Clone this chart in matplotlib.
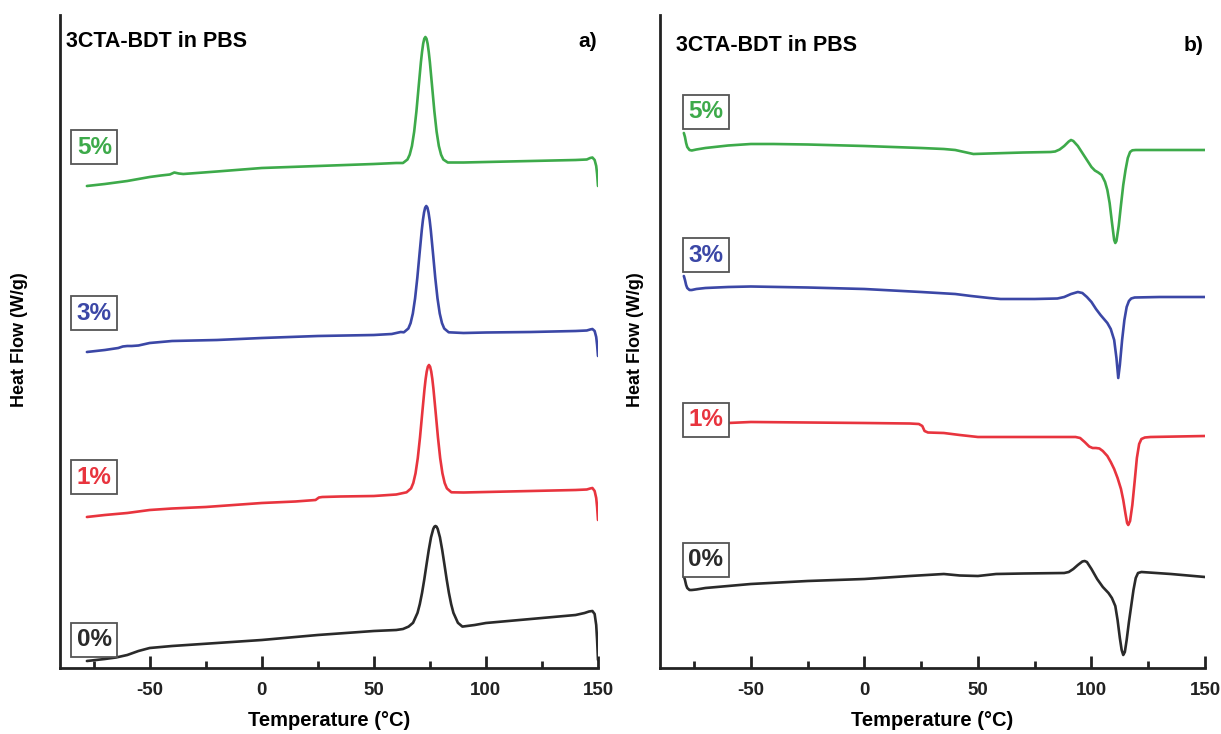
import matplotlib
matplotlib.use("Agg")
import matplotlib.pyplot as plt
from matplotlib.ticker import MultipleLocator

plt.rcParams['font.family'] = ['Liberation Sans', 'DejaVu Sans']
plt.rcParams['axes.unicode_minus'] = False

# ---------------- data (heat flow in arbitrary offset units; axis is inverted) ----------------
# Panel a) : exothermic crystallisation peaks
a_5_T = [-78, -70, -60, -55, -50, -45, -41, -39, -37, -35, -20, 0, 25, 50, 60, 63,
         65, 66, 67, 68, 69, 70, 71, 71.5, 72, 72.5, 73, 73.5, 74, 74.5, 75, 76, 77, 78, 79, 80, 81, 83,
         90, 100, 120, 140, 145, 146.5, 147.5, 148.5, 149.2, 149.6, 150]
a_5_y = [186, 184, 181, 179, 177, 175.5, 174.5, 172.5, 173.5, 174, 171.5, 168, 166, 164, 163, 163,
         159.5, 154.7, 146, 131.6, 111.2, 86.5, 62.1, 52, 43.8, 38.7, 37, 38.7, 43.8, 52, 62.1, 86.5,
         111.2, 131.6, 146, 154.7, 159.5, 162.5,
         162.5, 162, 161, 160, 159.5, 158, 157.5, 160, 166, 174, 186]

a_3_T = [-78, -70, -64, -62, -60, -58, -55, -50, -45, -40, -20, 0, 25, 50, 58, 61, 62,
         63.4, 65.4, 66.4, 67.4, 68.4, 69.4, 70.4, 71.4, 71.9, 72.4, 72.9, 73.4, 73.9, 74.4, 74.9,
         75.4, 76.4, 77.4, 78.4, 79.4, 80.4, 81.4, 83.4,
         90, 100, 120, 140, 145, 146.5, 147.5, 148.5, 149.2, 149.6, 150]
a_3_y = [352, 350, 348, 346.5, 346, 346, 345.5, 343, 342, 341, 340, 338, 336, 335, 334, 332.5, 332,
         332.3, 328.5, 323.1, 313.5, 298.4, 277.8, 253.5, 229.9, 220, 212.5, 207.6, 206, 207.6,
         212.5, 220, 229.9, 253.5, 277.8, 298.4, 313.5, 323.1, 328.5, 332.3,
         333, 332.5, 332, 331, 330.5, 329.5, 329, 331, 337, 345, 356]

a_1_T = [-78, -70, -60, -50, -40, -25, 0, 15, 24, 25.5, 27, 35, 50, 60,
         64.6, 66.6, 67.6, 68.6, 69.6, 70.6, 71.6, 72.6, 73.1, 73.6, 74.1, 74.6, 75.1, 75.6, 76.1,
         76.6, 77.6, 78.6, 79.6, 80.6, 81.6, 82.6, 84.6,
         90, 100, 120, 140, 145, 146.5, 147.5, 148.5, 149.2, 149.6, 150]
a_1_y = [517, 515, 513, 510, 508.5, 507, 503, 501.5, 500, 497.5, 497, 496.5, 496, 494.5,
         492.3, 488.4, 483, 473.3, 458.2, 437.3, 412.9, 389.1, 379.1, 371.5, 366.7, 365, 366.7,
         371.5, 379.1, 389.1, 412.9, 437.3, 458.2, 473.3, 483, 488.4, 492.3,
         492.5, 492, 491, 490, 489.5, 488.5, 488, 491, 498, 507, 520]

a_0_T = [-78, -70, -65, -60, -55, -50, -45, -40, -20, 0, 25, 50, 60, 63,
         65.5, 67.5, 69.5, 70.5, 71.5, 72.5, 73.5, 74.5, 75.5, 76.5, 77, 77.5, 78, 78.5, 79.5,
         80.5, 81.5, 82.5, 83.5, 84.5, 85.5, 87.5, 89.5,
         95, 100, 110, 120, 130, 140, 144, 146, 147.5, 148.5, 149.2, 149.6, 150]
a_0_y = [661, 659, 657.5, 655, 651, 648, 647, 646, 643, 640, 635, 631, 630, 629,
         626.6, 622.8, 612.8, 604.2, 593, 579.5, 564.6, 550, 537.4, 529, 526.7, 526, 526.7, 529,
         537.4, 550, 564.6, 579.5, 593, 604.2, 612.8, 622.8, 626.6,
         625, 623, 621, 619, 617, 615, 613, 611.5, 611, 614, 625, 640, 660]

# Panel b) : endothermic melting
b_5_T = [-79.5, -79, -78.5, -78, -77, -76, -74, -70, -60, -50, -40, -25, 0, 25, 35, 40, 45, 48,
         55, 70, 82, 84, 86, 88, 90, 91, 92, 94, 96, 98, 100, 101.5, 103, 104.5, 106, 107, 108, 109,
         110, 110.5, 111, 112, 113, 114, 115, 116, 117, 118, 119.5, 130, 150]
b_5_y = [133, 137, 143, 147, 150, 150.5, 149.5, 148, 145.5, 144, 144, 144.5, 146, 148, 149, 150,
         152.5, 154, 153.5, 152.5, 152, 151.5, 149.5, 146, 141.5, 140, 141, 146, 153, 160, 167, 170.5,
         172.5, 175, 182, 190, 203, 222, 240, 243, 241, 226, 205, 185, 170, 158, 152, 150.3, 150,
         150, 150]

b_3_T = [-79.5, -79, -78.5, -78, -77, -76, -74, -70, -60, -50, -25, 0, 25, 40, 47, 55, 60, 75,
         85, 88, 91, 94, 96, 98, 100, 102, 104, 105.5, 107, 108.5, 110, 111, 111.8, 112.5, 113.5,
         114.5, 115.5, 116.5, 117.5, 119, 130, 150]
b_3_y = [276, 280, 285, 288, 290, 290, 289, 288, 287, 286.5, 287.5, 289, 292, 294, 296, 298, 299,
         299, 298.5, 297, 294, 292, 293, 297, 302, 309, 315, 319, 323, 329, 340, 358, 378, 365, 340,
         320, 307, 301, 298.5, 297.5, 297, 297]

b_1_T = [-79.5, -79, -78.5, -78, -77, -76, -74, -70, -50, -25, 0, 20, 24, 25.5, 26.5, 28, 35,
         42, 50, 60, 80, 93, 95, 97, 99, 100.5, 102, 103.5, 105, 107, 108.5, 110, 111.5, 113, 114,
         115, 115.7, 116.2, 117, 118, 119, 120, 121, 122, 123.5, 126, 150]
b_1_y = [408, 413, 419, 423, 425, 425, 424.5, 424, 422, 422.5, 423, 423.5, 424, 426, 431, 432.5,
         433, 435, 437, 437, 437, 437, 438, 442, 446.5, 448, 448, 448.5, 451, 456, 462, 469, 478,
         489, 500, 514, 523, 525, 521, 505, 482, 458, 444, 439, 437.5, 437, 436]

b_0_T = [-79.5, -79, -78.5, -78, -77, -76, -74, -70, -60, -50, -25, 0, 20, 35, 42, 50, 58, 70,
         88, 90, 92, 94, 96, 97, 98, 100, 102.5, 105, 107.5, 109, 110.5, 111.5, 112.5, 113.3, 114,
         114.7, 115.5, 116.5, 117.5, 118.5, 119.5, 120.5, 122, 135, 150]
b_0_y = [576, 580, 585, 588, 590, 590, 589.5, 588, 586, 584, 581, 579, 576, 574, 575.5, 576, 574,
         573.5, 573, 572, 569, 565, 561.5, 561, 562, 569, 579, 587, 593, 598, 606, 620, 638, 650,
         655, 652, 640, 622, 606, 590, 578, 573, 572, 574, 577]

labels = ['5%', '3%', '1%', '0%']
colors = ['#3daa4a', '#3b47a6', '#e8343e', '#2a2a2a']
label_y_a = [147, 313, 477, 640]
label_y_b = [112, 255, 420, 560]

panel_a = [(a_5_T, a_5_y), (a_3_T, a_3_y), (a_1_T, a_1_y), (a_0_T, a_0_y)]
panel_b = [(b_5_T, b_5_y), (b_3_T, b_3_y), (b_1_T, b_1_y), (b_0_T, b_0_y)]

xticks = [-50, 0, 50, 100, 150]

# ---------------- figure ----------------
W, H = 1221, 734
fig = plt.figure(figsize=(W / 100, H / 100), dpi=100)

def ax_rect(x0, x1, y0, y1):
    return [x0 / W, 1 - y1 / H, (x1 - x0) / W, (y1 - y0) / H]

ax_a = fig.add_axes(ax_rect(60, 598, 15, 668))
ax_b = fig.add_axes(ax_rect(660, 1205, 15, 668))

specs = [(ax_a, panel_a, label_y_a, 'a)', 20, 0.011, 0.960, -82.5),
         (ax_b, panel_b, label_y_b, 'b)', 635, 0.029, 0.953, -77.5)]

for ax, data, lab_y, tag, ylab_x, tx, ty, lx in specs:
    for (T, y), c in zip(data, colors):
        ax.plot(T, y, color=c, lw=1.9, solid_capstyle='round', solid_joinstyle='round')
    ax.set_xlim(-90, 150)
    ax.set_ylim(668, 15)
    for s in ['top', 'right']:
        ax.spines[s].set_visible(False)
    for s in ['left', 'bottom']:
        ax.spines[s].set_linewidth(2.0)
        ax.spines[s].set_color('#222222')
    ax.set_yticks([])
    ax.set_xticks(xticks)
    ax.xaxis.set_minor_locator(MultipleLocator(25))
    ax.tick_params(axis='x', which='major', direction='in', length=9, width=2,
                   labelsize=13.5, pad=10, colors='#222222')
    ax.tick_params(axis='x', which='minor', direction='in', length=5, width=2,
                   colors='#222222')
    for t in ax.get_xticklabels():
        t.set_fontweight('bold')
    ax.set_xlabel('Temperature (°C)', fontsize=14.5, fontweight='bold', labelpad=9)
    ax.text(tx, ty, '3CTA-BDT in PBS', transform=ax.transAxes,
            fontsize=15.5, fontweight='bold', ha='left', va='center')
    ax.text(0.998, ty, tag, transform=ax.transAxes,
            fontsize=15, fontweight='bold', ha='right', va='center')
    for lab, c, ly in zip(labels, colors, lab_y):
        ax.text(lx, ly, lab, color=c, fontsize=17.5, fontweight='bold',
                ha='left', va='center',
                bbox=dict(boxstyle='square,pad=0.22', fc='white', ec='#555555', lw=1.3))
    fig.text(ylab_x / W, 1 - 340 / H, 'Heat Flow (W/g)', rotation=90,
             fontsize=13, fontweight='bold', ha='center', va='center')

fig.savefig('out.png', dpi=100)
